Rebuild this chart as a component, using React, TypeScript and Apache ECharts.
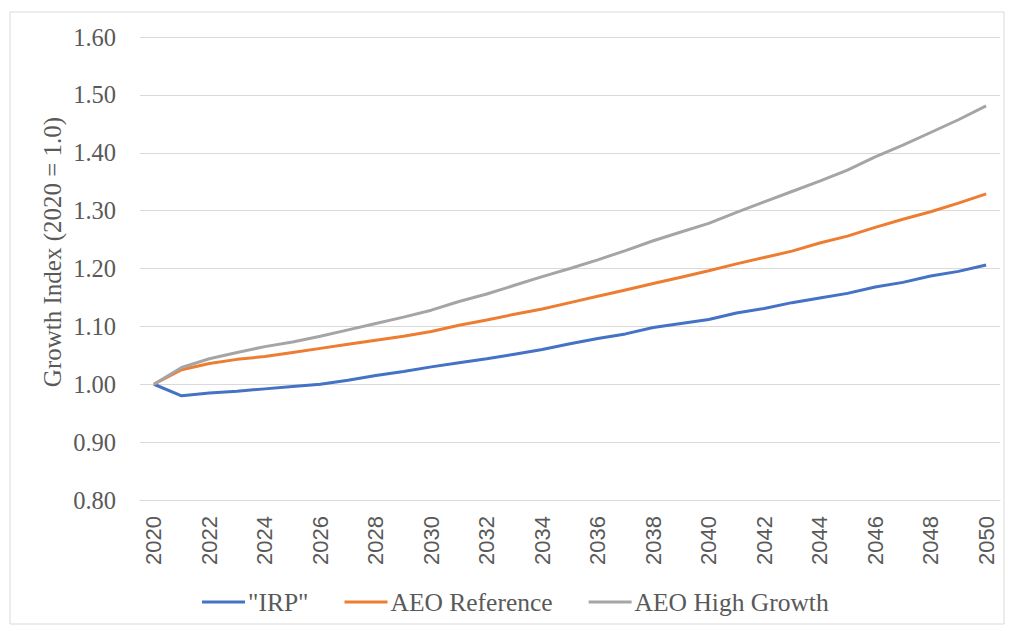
import React, { useEffect, useRef } from "react";
import * as echarts from "echarts";

const years: string[] = [];
for (let y = 2020; y <= 2050; y++) years.push(String(y));

const irp = [1.0, 0.98, 0.985, 0.988, 0.992, 0.996, 1.0, 1.007, 1.015, 1.022, 1.03, 1.037, 1.044, 1.052, 1.06, 1.07, 1.079, 1.087, 1.098, 1.105, 1.112, 1.123, 1.131, 1.141, 1.149, 1.157, 1.168, 1.176, 1.187, 1.195, 1.206];
const aeoRef = [1.0, 1.025, 1.036, 1.043, 1.048, 1.055, 1.062, 1.069, 1.076, 1.083, 1.091, 1.102, 1.111, 1.121, 1.13, 1.141, 1.152, 1.163, 1.174, 1.185, 1.196, 1.208, 1.219, 1.23, 1.244, 1.256, 1.271, 1.285, 1.298, 1.313, 1.329];
const aeoHigh = [1.0, 1.029, 1.044, 1.055, 1.065, 1.073, 1.083, 1.094, 1.105, 1.116, 1.128, 1.143, 1.156, 1.171, 1.186, 1.2, 1.215, 1.231, 1.248, 1.263, 1.278, 1.297, 1.315, 1.333, 1.351, 1.37, 1.393, 1.413, 1.435, 1.457, 1.481];

const seriesNames = ['"IRP"', "AEO Reference", "AEO High Growth"];
const yAxisTitle = "Growth Index (2020 = 1.0)";
const colors = ["#4472C4", "#ED7D31", "#A5A5A5"];

export default function App() {
  const ref = useRef<HTMLDivElement>(null);
  useEffect(() => {
    if (!ref.current) return;
    const chart = echarts.init(ref.current, null, { renderer: "svg" });
    const serif = "Liberation Serif";
    chart.setOption({
      animation: false,
      color: colors,
      textStyle: { fontFamily: serif },
      graphic: [
        {
          type: "rect",
          shape: { x: 10, y: 12, width: 994, height: 612 },
          style: { fill: "none", stroke: "#d9d9d9", lineWidth: 1 },
          silent: true,
        },
        {
          type: "text",
          x: 52,
          y: 252,
          rotation: Math.PI / 2,
          style: {
            text: yAxisTitle,
            fontFamily: serif,
            fontSize: 25,
            fill: "#595959",
            align: "center",
            verticalAlign: "middle",
          },
          silent: true,
        },
      ],
      grid: { left: 140, right: 10, top: 37, bottom: 131 },
      legend: {
        top: 589,
        left: 202,
        padding: 0,
        itemWidth: 43,
        itemHeight: 3,
        itemGap: 36,
        icon: "rect",
        textStyle: { fontFamily: serif, fontSize: 25.5, color: "#595959", padding: [0, 0, 0, -2] },
        data: seriesNames,
      },
      xAxis: {
        type: "category",
        data: years,
        boundaryGap: true,
        axisLine: { show: true, lineStyle: { color: "#d9d9d9", width: 1 } },
        axisTick: { show: false },
        axisLabel: {
          interval: 1,
          rotate: 90,
          margin: 16,
          fontFamily: "Liberation Sans",
          fontSize: 22,
          color: "#595959",
        },
      },
      yAxis: {
        type: "value",
        min: 0.8,
        max: 1.6,
        interval: 0.1,
        axisLine: { show: false },
        axisTick: { show: false },
        axisLabel: {
          margin: 24,
          fontFamily: serif,
          fontSize: 24.5,
          color: "#595959",
          formatter: (v: number) => v.toFixed(2),
        },
        splitLine: { show: true, lineStyle: { color: "#d9d9d9", width: 1 } },
      },
      series: [irp, aeoRef, aeoHigh].map((d, i) => ({
        name: seriesNames[i],
        type: "line",
        data: d,
        symbol: "none",
        lineStyle: { width: 3, color: colors[i] },
        itemStyle: { color: colors[i] },
      })),
    });
    return () => chart.dispose();
  }, []);
  return (
    <div
      ref={ref}
      style={{ position: "fixed", left: 0, top: 0, width: 1010, height: 631, background: "#fff" }}
    />
  );
}
